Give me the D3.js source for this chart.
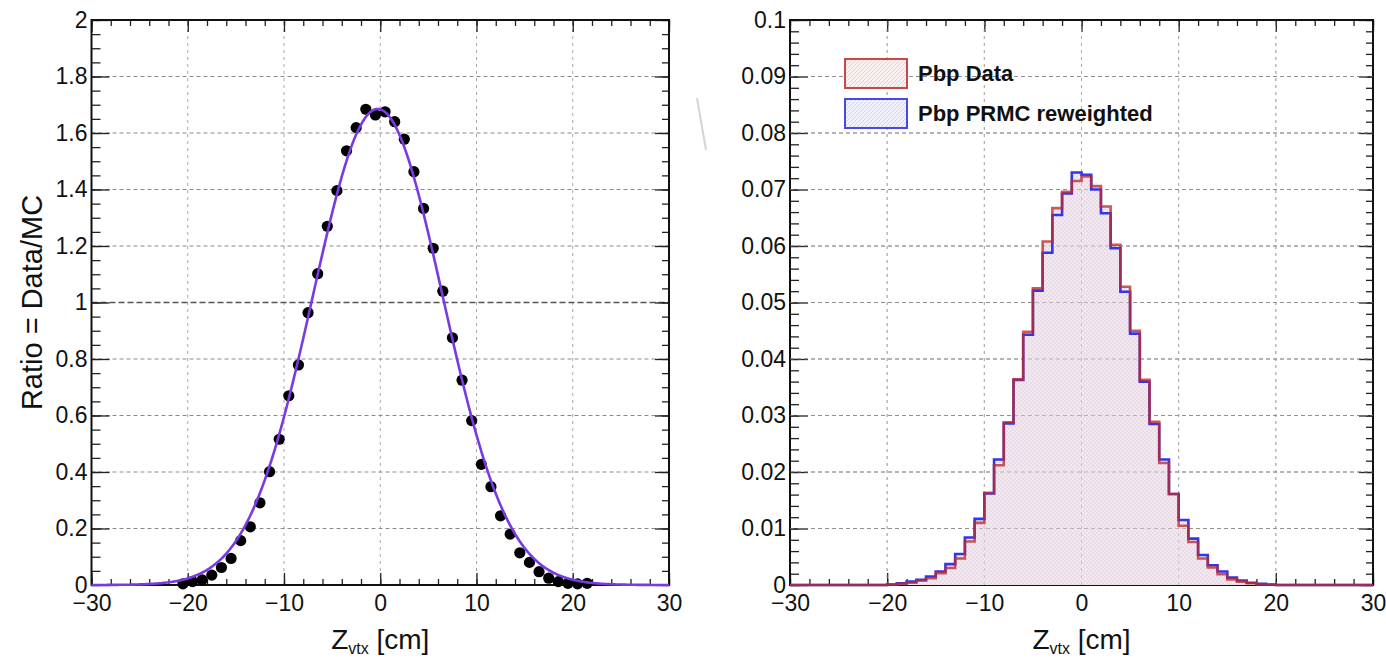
<!DOCTYPE html>
<html>
<head>
<meta charset="utf-8">
<script src="https://cdn.jsdelivr.net/npm/d3@7"></script>
<style>
  body { margin: 0; background: #fff; }
  text { font-family: "Liberation Sans", Arial, Helvetica, sans-serif; fill: #111; }
</style>
</head>
<body>
<div id="chart"></div>
<script>
// left panel: Data/MC ratio points (bin centres, 1 cm bins) and fit
const ratioZ = [-20.5, -19.5, -18.5, -17.5, -16.5, -15.5, -14.5, -13.5, -12.5, -11.5, -10.5, -9.5, -8.5, -7.5,
  -6.5, -5.5, -4.5, -3.5, -2.5, -1.5, -0.5, 0.5, 1.5, 2.5, 3.5, 4.5, 5.5, 6.5, 7.5, 8.5, 9.5, 10.5, 11.5,
  12.5, 13.5, 14.5, 15.5, 16.5, 17.5, 18.5, 19.5, 20.5, 21.5];
const ratioVal = [0.004, 0.012, 0.018, 0.035, 0.062, 0.094, 0.157, 0.206, 0.291, 0.401, 0.516, 0.670, 0.779, 0.964,
  1.102, 1.270, 1.396, 1.537, 1.619, 1.684, 1.664, 1.675, 1.640, 1.578, 1.463, 1.333, 1.192, 1.040, 0.875, 0.725,
  0.582, 0.427, 0.348, 0.245, 0.180, 0.114, 0.080, 0.047, 0.024, 0.012, 0.006, 0.004, 0.006];
// gaussian fit: amplitude, mean, sigma
const fitParams = [1.685, -0.26, 6.75];

// right panel: normalised Zvtx histograms, 1 cm bins from -30 to 30
const binEdges = [-30, -29, -28, -27, -26, -25, -24, -23, -22, -21, -20, -19, -18, -17, -16, -15, -14, -13, -12, -11,
  -10, -9, -8, -7, -6, -5, -4, -3, -2, -1, 0, 1, 2, 3, 4, 5, 6, 7, 8, 9, 10, 11, 12, 13, 14, 15, 16, 17, 18, 19,
  20, 21, 22, 23, 24, 25, 26, 27, 28, 29, 30];
const dataHist = [0, 0, 0, 0, 0, 0, 0, 0, 0, 0,
  0.0001, 0.0002, 0.0004, 0.0008, 0.0012, 0.0021, 0.0030, 0.0047, 0.0077, 0.0110,
  0.0163, 0.0212, 0.0288, 0.0364, 0.0448, 0.0525, 0.0608, 0.0667, 0.0696, 0.0715,
  0.0723, 0.0706, 0.0670, 0.0602, 0.0528, 0.0450, 0.0363, 0.0289, 0.0216, 0.0161,
  0.0105, 0.0076, 0.0047, 0.0031, 0.0019, 0.0010, 0.0006, 0.0003, 0.0001, 0.0001,
  0, 0, 0, 0, 0, 0, 0, 0, 0, 0];
const mcHist = [0, 0, 0, 0, 0, 0, 0, 0, 0, 0,
  0.0001, 0.0003, 0.0006, 0.0009, 0.0015, 0.0024, 0.0037, 0.0055, 0.0084, 0.0117,
  0.0162, 0.0222, 0.0286, 0.0363, 0.0443, 0.0521, 0.0588, 0.0655, 0.0693, 0.0730,
  0.0726, 0.0700, 0.0658, 0.0596, 0.0519, 0.0445, 0.0360, 0.0285, 0.0222, 0.0161,
  0.0115, 0.0082, 0.0053, 0.0035, 0.0024, 0.0013, 0.0008, 0.0004, 0.0002, 0.0001,
  0, 0, 0, 0, 0, 0, 0, 0, 0, 0];
const legendLabels = ["Pbp Data", "Pbp PRMC reweighted"];

// ticks
const xMajor = [-30, -20, -10, 0, 10, 20, 30];
const xMinor = d3.range(-30, 30.01, 2);
const ratioMajor = [0, 0.2, 0.4, 0.6, 0.8, 1, 1.2, 1.4, 1.6, 1.8, 2];
const ratioMinor = d3.range(0, 2.001, 0.05);
const histMajor = [0, 0.01, 0.02, 0.03, 0.04, 0.05, 0.06, 0.07, 0.08, 0.09, 0.1];
const histMinor = d3.range(0, 0.1001, 0.002);

const width = 1386, height = 661;
const svg = d3.select("#chart").append("svg")
  .attr("width", width).attr("height", height);
svg.append("rect").attr("width", width).attr("height", height).attr("fill", "#fff");

const defs = svg.append("defs");
let addPattern = function (id, base, dot, lines) {
  const p = defs.append("pattern").attr("id", id)
    .attr("width", 4).attr("height", 4).attr("patternUnits", "userSpaceOnUse");
  p.append("rect").attr("width", 4).attr("height", 4).attr("fill", base);
  if (lines) {
    p.append("path").attr("d", "M0,4L4,0M-1,1L1,-1M3,5L5,3").attr("stroke", dot).attr("stroke-width", 0.8);
  } else {
    p.append("circle").attr("cx", 1).attr("cy", 1).attr("r", 0.8).attr("fill", dot);
    p.append("circle").attr("cx", 3).attr("cy", 3).attr("r", 0.8).attr("fill", dot);
  }
}
addPattern("fillRed", "#f3eaf1", "#dfcada", false);
addPattern("fillBlue", "#eeeefb", "#d4d6f3", false);
addPattern("legRed", "#fbf0f0", "#eac8c8", true);
addPattern("legBlue", "#f0f1fc", "#c9cef3", true);

let fmtNum = d => d < 0 ? "\u2212" + Math.abs(d) : String(+d.toFixed(3));

// frame, grid and inward ticks on all four sides (ROOT style)
let drawFrame = function (x, y, yMajor, yMinor, gridStrong) {
  const [xa, xb] = x.range();
  const [ya, yb] = y.range();
  const g = svg.append("g");

  g.append("g").selectAll("line").data(xMajor.slice(1, -1)).join("line")
    .attr("x1", d => x(d)).attr("x2", d => x(d)).attr("y1", ya).attr("y2", yb)
    .attr("stroke", "#a8a8a8").attr("stroke-width", 1).attr("stroke-dasharray", "3,4");
  g.append("g").selectAll("line").data(yMajor.slice(1, -1)).join("line")
    .attr("x1", xa).attr("x2", xb).attr("y1", d => y(d)).attr("y2", d => y(d))
    .attr("stroke", d => d === gridStrong ? "#555" : "#8c8c8c")
    .attr("stroke-width", d => d === gridStrong ? 1.6 : 1.2)
    .attr("stroke-dasharray", d => d === gridStrong ? "6,3" : "4,3");

  const tick = (axis, tx, ty) => g.append("g").attr("transform", `translate(${tx},${ty})`)
    .call(axis).call(s => s.select(".domain").remove())
    .call(s => s.selectAll(".tick line").attr("stroke", "#222").attr("stroke-width", 1.3));

  tick(d3.axisBottom(x).tickValues(xMinor).tickSize(-6).tickFormat(""), 0, ya);
  tick(d3.axisBottom(x).tickValues(xMajor).tickSize(-12).tickPadding(10).tickFormat(fmtNum), 0, ya)
    .selectAll("text").attr("font-size", 23).attr("fill", "#111");
  tick(d3.axisTop(x).tickValues(xMinor).tickSize(-6).tickFormat(""), 0, yb);
  tick(d3.axisTop(x).tickValues(xMajor).tickSize(-12).tickFormat(""), 0, yb);

  tick(d3.axisLeft(y).tickValues(yMinor).tickSize(-9).tickFormat(""), xa, 0);
  tick(d3.axisLeft(y).tickValues(yMajor).tickSize(-18).tickPadding(4).tickFormat(fmtNum), xa, 0)
    .selectAll("text").attr("font-size", 23).attr("fill", "#111");
  tick(d3.axisRight(y).tickValues(yMinor).tickSize(-7).tickFormat(""), xb, 0);
  tick(d3.axisRight(y).tickValues(yMajor).tickSize(-14).tickFormat(""), xb, 0);

  // x title with subscript
  const t = g.append("text").attr("x", (xa + xb) / 2).attr("y", 649)
    .attr("text-anchor", "middle").attr("font-size", 28);
  t.append("tspan").text("Z");
  t.append("tspan").attr("font-size", 16).attr("dy", 5).text("vtx");
  t.append("tspan").attr("dy", -5).text(" [cm]");
  return g;
}

// ---------- left panel ----------
const xL = d3.scaleLinear().domain([-30, 30]).range([91.5, 669]);
const yL = d3.scaleLinear().domain([0, 2]).range([585, 20]);
const left = drawFrame(xL, yL, ratioMajor, ratioMinor, 1);

svg.append("text")
  .attr("transform", `translate(42,${yL(1)}) rotate(-90)`)
  .attr("text-anchor", "middle").attr("font-size", 29)
  .text("Ratio = Data/MC");

svg.append("g").selectAll("circle").data(ratioZ).join("circle")
  .attr("cx", d => xL(d)).attr("cy", (d, i) => yL(ratioVal[i]))
  .attr("r", 5.6).attr("fill", "#000");

const [amp, mean, sigma] = fitParams;
const fitLine = d3.line().x(d => xL(d)).y(d => yL(amp * Math.exp(-((d - mean) ** 2) / (2 * sigma * sigma))));
svg.append("path").datum(d3.range(-30, 30.001, 0.1))
  .attr("d", fitLine).attr("fill", "none")
  .attr("stroke", "#7a3ae2").attr("stroke-width", 2.6);

left.append("rect").attr("x", 91.5).attr("y", 20).attr("width", 669 - 91.5).attr("height", 565)
  .attr("fill", "none").attr("stroke", "#111").attr("stroke-width", 2);

// ---------- right panel ----------
const xR = d3.scaleLinear().domain([-30, 30]).range([790, 1373]);
const yR = d3.scaleLinear().domain([0, 0.1]).range([585, 20]);
const right = drawFrame(xR, yR, histMajor, histMinor, null);

let stepPoints = vals => vals.map((v, i) => [binEdges[i], v]).concat([[binEdges[binEdges.length - 1], 0]]);
const histArea = d3.area().curve(d3.curveStepAfter).x(d => xR(d[0])).y0(yR(0)).y1(d => yR(d[1]));
const histLine = d3.line().curve(d3.curveStepAfter).x(d => xR(d[0])).y(d => yR(d[1]));

const hg = svg.append("g");
hg.append("path").datum(stepPoints(mcHist)).attr("d", histArea).attr("fill", "url(#fillBlue)");
hg.append("path").datum(stepPoints(dataHist)).attr("d", histArea).attr("fill", "url(#fillRed)");
// faint major grid over the fill
hg.append("g").selectAll("line").data(xMajor.slice(1, -1)).join("line")
  .attr("x1", d => xR(d)).attr("x2", d => xR(d)).attr("y1", 585).attr("y2", 20)
  .attr("stroke", "#b0a8b0").attr("stroke-width", 1).attr("stroke-dasharray", "3,4").attr("opacity", 0.6);
hg.append("g").selectAll("line").data(histMajor.slice(1, -1)).join("line")
  .attr("x1", 790).attr("x2", 1373).attr("y1", d => yR(d)).attr("y2", d => yR(d))
  .attr("stroke", "#9a909a").attr("stroke-width", 1.1).attr("stroke-dasharray", "4,3").attr("opacity", 0.6);
hg.append("path").datum(stepPoints(mcHist)).attr("d", histLine)
  .attr("fill", "none").attr("stroke", "#3434ea").attr("stroke-width", 2.6);
hg.append("path").datum(stepPoints(dataHist)).attr("d", histLine)
  .attr("fill", "none").attr("stroke", "#bd2b2b").attr("stroke-width", 2.6).attr("opacity", 0.78);

right.append("rect").attr("x", 790).attr("y", 20).attr("width", 1373 - 790).attr("height", 565)
  .attr("fill", "none").attr("stroke", "#111").attr("stroke-width", 2);

// legend
const legend = svg.append("g");
const legColors = [["#c84848", "url(#legRed)"], ["#4848e6", "url(#legBlue)"]];
legendLabels.forEach((label, i) => {
  const ly = 59 + i * 40;
  legend.append("rect").attr("x", 845).attr("y", ly).attr("width", 62).attr("height", 29)
    .attr("fill", legColors[i][1]).attr("stroke", legColors[i][0]).attr("stroke-width", 2);
  legend.append("text").attr("x", 918).attr("y", ly + 22)
    .attr("font-size", 22).attr("font-weight", "bold").text(label);
});

// faint stray stroke in the original image between the panels
svg.append("line").attr("x1", 697).attr("y1", 98).attr("x2", 706).attr("y2", 150)
  .attr("stroke", "#d4d4d4").attr("stroke-width", 2);
</script>
</body>
</html>
